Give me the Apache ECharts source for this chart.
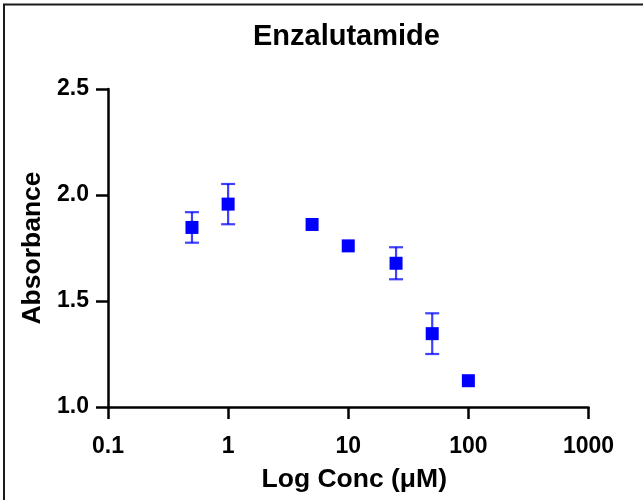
<!DOCTYPE html>
<html>
<head>
<meta charset="utf-8">
<style>
  html, body { margin: 0; padding: 0; background: #fff; }
  #chart { width: 643px; height: 500px; }
</style>
<script src="https://cdn.jsdelivr.net/npm/echarts@6/dist/echarts.min.js"></script>
</head>
<body>
<div id="chart"></div>
<script>
// Concentrations (µM) and mean absorbance with SEM (0 = bar hidden by the marker)
const concentrations = [0.5, 1, 5, 10, 25, 50, 100];
const absorbance = [1.847, 1.957, 1.861, 1.760, 1.678, 1.346, 1.124];
const errors = [0.072, 0.095, 0, 0, 0.0755, 0.096, 0];
const yTicks = [1.0, 1.5, 2.0, 2.5];
const xTicks = [0.1, 1, 10, 100, 1000];

const FONT = '"Liberation Sans", Arial, Helvetica, sans-serif';
const BLUE = '#0000ff';

const points = concentrations.map((c, i) => [c, absorbance[i]]);
const errData = concentrations
  .map((c, i) => [c, absorbance[i] - errors[i], absorbance[i] + errors[i], errors[i]])
  .filter(d => d[3] > 0);

const chart = echarts.init(document.getElementById('chart'), null, { renderer: 'canvas' });

chart.setOption({
  animation: false,
  backgroundColor: '#fff',
  title: {
    text: 'Enzalutamide',
    left: 248,
    top: 17,
    textStyle: { fontFamily: FONT, fontWeight: 'bold', fontSize: 29, color: '#000' }
  },
  graphic: [{
    type: 'rect',
    shape: { x: 4, y: 4.5, width: 700, height: 600 },
    style: { fill: 'none', stroke: '#1a1a1a', lineWidth: 2 },
    silent: true
  }],
  grid: { left: 108, right: 54.5, top: 89, bottom: 93, containLabel: false },
  xAxis: {
    type: 'log',
    logBase: 10,
    min: xTicks[0],
    max: xTicks[xTicks.length - 1],
    name: 'Log Conc (μM)',
    nameLocation: 'middle',
    nameGap: 59,
    nameTextStyle: { fontFamily: FONT, fontWeight: 'bold', fontSize: 26.5, color: '#000', padding: [0, 0, 0, 12] },
    axisLine: { show: true, onZero: false, lineStyle: { color: '#000', width: 2.5 } },
    axisTick: { show: true, length: 12, lineStyle: { color: '#000', width: 2.5 } },
    axisLabel: {
      fontFamily: FONT, fontWeight: 'bold', fontSize: 23, color: '#000', margin: 28,
      formatter: v => String(xTicks.find(t => Math.abs(t - v) / t < 1e-6) ?? v)
    },
    splitLine: { show: false },
    minorTick: { show: false }
  },
  yAxis: {
    type: 'value',
    min: yTicks[0],
    max: yTicks[yTicks.length - 1],
    interval: 0.5,
    name: 'Absorbance',
    nameLocation: 'middle',
    nameGap: 62,
    nameTextStyle: { fontFamily: FONT, fontWeight: 'bold', fontSize: 26.5, color: '#000' },
    axisLine: { show: true, lineStyle: { color: '#000', width: 2.5 } },
    axisTick: { show: true, length: 12, lineStyle: { color: '#000', width: 2.5 } },
    axisLabel: {
      fontFamily: FONT, fontWeight: 'bold', fontSize: 23, color: '#000', margin: 19,
      formatter: v => v.toFixed(1)
    },
    splitLine: { show: false }
  },
  series: [
    {
      type: 'custom',
      z: 1,
      data: errData,
      renderItem: (params, api) => {
        const x = api.value(0);
        const lo = api.coord([x, api.value(1)]);
        const hi = api.coord([x, api.value(2)]);
        const half = 7;
        const style = { stroke: BLUE, lineWidth: 2.2, opacity: 0.75 };
        return {
          type: 'group',
          children: [
            { type: 'line', shape: { x1: lo[0], y1: lo[1], x2: hi[0], y2: hi[1] }, style },
            { type: 'line', shape: { x1: lo[0] - half, y1: lo[1], x2: lo[0] + half, y2: lo[1] }, style },
            { type: 'line', shape: { x1: hi[0] - half, y1: hi[1], x2: hi[0] + half, y2: hi[1] }, style }
          ]
        };
      }
    },
    {
      type: 'scatter',
      z: 2,
      symbol: 'rect',
      symbolSize: 13,
      itemStyle: { color: BLUE, opacity: 1 },
      data: points
    }
  ]
});
</script>
</body>
</html>
